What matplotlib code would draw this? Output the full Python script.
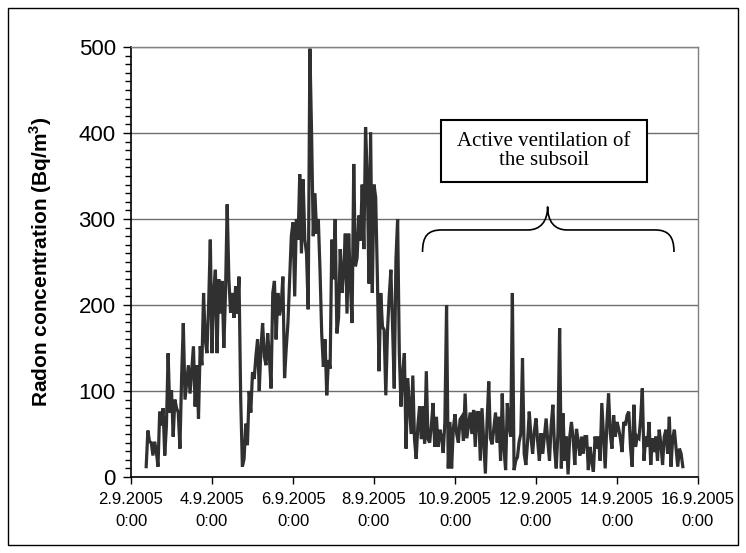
import numpy as np
import pandas as pd
import matplotlib
matplotlib.use('Agg')
import matplotlib.pyplot as plt
import matplotlib.dates as mdates
from matplotlib.ticker import MultipleLocator, FuncFormatter
from matplotlib.path import Path
from matplotlib.patches import PathPatch, Rectangle

plt.rcParams['font.family'] = ['Liberation Sans', 'DejaVu Sans']
plt.rcParams['mathtext.fontset'] = 'custom'
plt.rcParams['mathtext.rm'] = 'Liberation Sans'
plt.rcParams['mathtext.bf'] = 'Liberation Sans:bold'

# hourly radon readings, first one at 2.9.2005 9:00
START = '2005-09-02 09:00'
radon_before = [
    12, 54, 41, 40, 25, 41, 30, 12, 76, 60, 80, 25, 60, 144, 75, 101, 47, 90, 80, 75, 33, 117, 179, 90,
    110, 130, 97, 125, 152, 82, 130, 68, 152, 130, 214, 160, 144, 200, 276, 144, 214, 241, 144, 230, 190, 228, 150, 214,
    317, 230, 191, 214, 185, 222, 190, 233, 92, 12, 21, 62, 37, 100, 75, 122, 114, 140, 160, 100, 150, 179, 140, 130,
    167, 140, 103, 214, 228, 160, 214, 188, 200, 233, 115, 150, 179, 230, 280, 296, 210, 300, 276, 352, 260, 346, 276, 260,
    195, 498, 401, 280, 330, 283, 300, 241, 167, 128, 160, 95, 136, 126, 276, 230, 300, 167, 185, 265, 214, 240, 283, 190,
    283, 225, 179, 364, 245, 255, 304, 275, 340, 265, 407, 350, 225, 401, 214, 340, 325, 233, 123, 214, 175, 171, 95, 170,
    210, 241, 175, 103, 253, 300, 144, 82, 120, 144, 33, 115,
]
radon_after = [
    82, 50, 118, 44, 21, 60, 82, 44, 82, 39, 123, 44,
    40, 60, 86, 35, 70, 35, 55, 47, 28, 64, 200, 10, 64, 10, 56, 73, 50, 40, 67, 70, 42, 97, 45, 60,
    75, 50, 78, 35, 75, 75, 19, 80, 42, 4, 64, 111, 45, 38, 56, 75, 40, 70, 19, 97, 33, 8, 86, 60,
    47, 214, 8, 19, 23, 41, 50, 138, 27, 14, 41, 76, 47, 27, 53, 68, 41, 19, 51, 27, 47, 68, 41, 19,
    60, 84, 33, 10, 51, 173, 10, 74, 19, 47, 3, 47, 64, 45, 14, 56, 41, 25, 47, 27, 47, 47, 8, 35,
    19, 6, 47, 33, 47, 19, 86, 47, 10, 62, 97, 51, 33, 72, 47, 64, 56, 45, 29, 64, 60, 72, 76, 35,
    12, 84, 35, 47, 45, 68, 103, 19, 47, 35, 64, 14, 45, 29, 47, 19, 55, 39, 14, 47, 55, 27, 70, 12,
    45, 55, 33, 12, 33, 27, 12,
]
radon = radon_before + radon_after
times = pd.date_range(START, periods=len(radon), freq='h')

x_ticks = pd.date_range('2005-09-02', '2005-09-16', freq='2D')
y_ticks = [0, 100, 200, 300, 400, 500]
y_label = r'Radon concentration (Bq/m$^{\mathbf{3}}$)'
note = 'Active ventilation of\nthe subsoil'


def date_label(v, pos):
    d = mdates.num2date(v)
    return f'{d.day}.{d.month}.{d.year}\n{d.hour}:{d.minute:02d}'


fig = plt.figure(figsize=(7.46, 5.53), dpi=100)
ax = fig.add_axes([131 / 746, 1 - 477 / 553, 567 / 746, 430 / 553])

ax.plot(times, radon, color='#303030', lw=2.3, zorder=3, solid_joinstyle='miter')

ax.set_xlim(x_ticks[0], x_ticks[-1])
ax.set_ylim(0, 500)
ax.set_xticks(x_ticks)
ax.xaxis.set_major_formatter(FuncFormatter(date_label))
ax.set_yticks(y_ticks)
ax.yaxis.set_minor_locator(MultipleLocator(10))
ax.yaxis.grid(True, color='#6e6e6e', lw=1)
ax.set_axisbelow(True)

ax.tick_params(axis='y', which='major', direction='out', length=6, width=1, labelsize=16, pad=5)
ax.tick_params(axis='y', which='minor', direction='out', length=4, width=1)
ax.tick_params(axis='x', direction='out', length=5, width=1, labelsize=12, pad=6)
plt.setp(ax.get_xticklabels(), linespacing=1.55)

for s in ['left', 'bottom']:
    ax.spines[s].set_color('black')
    ax.spines[s].set_linewidth(1.2)
for s in ['top', 'right']:
    ax.spines[s].set_color('#808080')
    ax.spines[s].set_linewidth(1)

ax.set_ylabel(y_label, fontsize=15, fontweight='bold')
ax.yaxis.set_label_coords(-0.136, 0.5)

# text box
ax.add_patch(Rectangle((0.546, 0.6856), 0.3644, 0.1451, transform=ax.transAxes,
                       fc='white', ec='black', lw=1.5, zorder=5))
ax.text(0.728, 0.758, note, transform=ax.transAxes, ha='center', va='center',
        family='Liberation Serif', fontsize=15, linespacing=1.05, zorder=6)

# curly brace
def fx(px):
    return (px - 131.3) / 566.7


def fy(py):
    return (476.7 - py) / 429.4


pts = [(422.7, 252), (422.7, 236), (428, 230), (442, 230),
       (528, 230),
       (540, 230), (547.7, 222), (547.7, 206.7),
       (547.7, 222), (555, 230), (567, 230),
       (655, 230),
       (668, 230), (674, 236), (674, 252)]
codes = [Path.MOVETO, Path.CURVE4, Path.CURVE4, Path.CURVE4,
         Path.LINETO,
         Path.CURVE4, Path.CURVE4, Path.CURVE4,
         Path.CURVE4, Path.CURVE4, Path.CURVE4,
         Path.LINETO,
         Path.CURVE4, Path.CURVE4, Path.CURVE4]
brace = Path([(fx(a), fy(b)) for a, b in pts], codes)
ax.add_patch(PathPatch(brace, transform=ax.transAxes, fill=False, ec='black', lw=1.2, zorder=5))

fig.add_artist(Rectangle((8 / 746, 8 / 553), 730 / 746, 537 / 553, transform=fig.transFigure,
                         fill=False, ec='black', lw=1))

fig.savefig('out.png', dpi=100)
